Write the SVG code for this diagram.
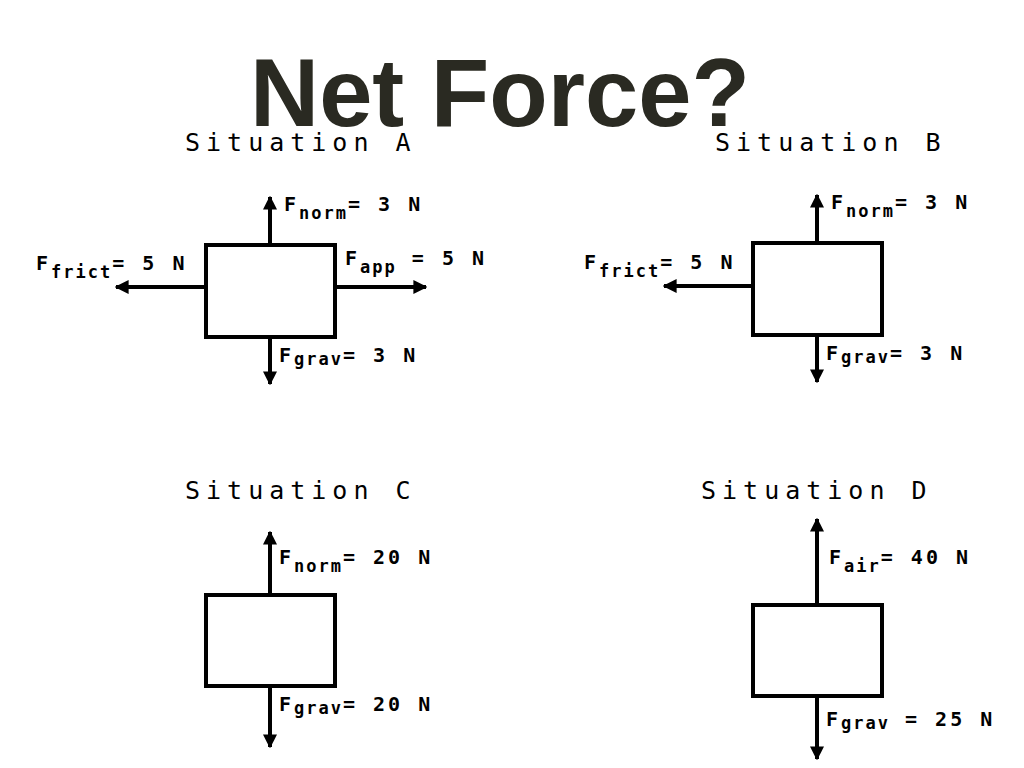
<svg xmlns="http://www.w3.org/2000/svg" width="1024" height="768" viewBox="0 0 1024 768">
<defs>
<marker id="ah" viewBox="0 0 10 10" refX="9" refY="5" markerWidth="3.5" markerHeight="3.5" orient="auto"><path d="M0,0 L10,5 L0,10 Z" fill="#000"/></marker>
<style>
.box{fill:#fff;stroke:#000;stroke-width:4}
.ar{stroke:#000;stroke-width:4;fill:none;marker-end:url(#ah)}
.lb{font-family:"DejaVu Sans Mono",monospace;font-weight:bold;font-size:20px;fill:#000;letter-spacing:3px}
.sub{font-size:17px;letter-spacing:2px}
.st{font-family:"DejaVu Sans Mono",monospace;font-size:25px;fill:#000;letter-spacing:6px}
.tt{font-family:"Liberation Sans",Arial,sans-serif;font-weight:bold;font-size:96px;fill:#2a2a22}
</style>
</defs>
<rect width="1024" height="768" fill="#fff"/>
<text class="tt" x="250" y="126" textLength="500" lengthAdjust="spacingAndGlyphs">Net Force?</text>
<text class="st" x="185" y="151">Situation A</text>
<text class="st" x="715" y="151">Situation B</text>
<text class="st" x="185" y="499">Situation C</text>
<text class="st" x="701" y="499">Situation D</text>
<g id="connectors">
<line class="ar" x1="270" y1="245" x2="270" y2="197"/>
<line class="ar" x1="270" y1="337" x2="270" y2="384"/>
<line class="ar" x1="206" y1="287" x2="116" y2="287"/>
<line class="ar" x1="335" y1="287" x2="426" y2="287"/>
<line class="ar" x1="817" y1="243" x2="817" y2="195"/>
<line class="ar" x1="817" y1="335" x2="817" y2="382"/>
<line class="ar" x1="753" y1="286" x2="664" y2="286"/>
<line class="ar" x1="270" y1="595" x2="270" y2="532"/>
<line class="ar" x1="270" y1="686" x2="270" y2="747"/>
<line class="ar" x1="817" y1="605" x2="817" y2="519"/>
<line class="ar" x1="817" y1="696" x2="817" y2="759"/>
</g>
<g id="A"><rect class="box" x="206" y="245" width="129" height="92"/>
<text class="lb" x="284" y="211">F<tspan class="sub" dy="8">norm</tspan><tspan dy="-8">= 3 N</tspan></text>
<text class="lb" x="36" y="270">F<tspan class="sub" dy="8">frict</tspan><tspan dy="-8">= 5 N</tspan></text>
<text class="lb" x="345" y="265">F<tspan class="sub" dy="8">app</tspan><tspan dy="-8"> = 5 N</tspan></text>
<text class="lb" x="279" y="362">F<tspan class="sub" dy="3">grav</tspan><tspan dy="-3">= 3 N</tspan></text>
</g>
<g id="B"><rect class="box" x="753" y="243" width="129" height="92"/>
<text class="lb" x="831" y="209">F<tspan class="sub" dy="8">norm</tspan><tspan dy="-8">= 3 N</tspan></text>
<text class="lb" x="584" y="269">F<tspan class="sub" dy="8">frict</tspan><tspan dy="-8">= 5 N</tspan></text>
<text class="lb" x="826" y="360">F<tspan class="sub" dy="3">grav</tspan><tspan dy="-3">= 3 N</tspan></text>
</g>
<g id="C"><rect class="box" x="206" y="595" width="129" height="91"/>
<text class="lb" x="279" y="564">F<tspan class="sub" dy="8">norm</tspan><tspan dy="-8">= 20 N</tspan></text>
<text class="lb" x="279" y="711">F<tspan class="sub" dy="3">grav</tspan><tspan dy="-3">= 20 N</tspan></text>
</g>
<g id="D"><rect class="box" x="753" y="605" width="129" height="91"/>
<text class="lb" x="829" y="564">F<tspan class="sub" dy="8">air</tspan><tspan dy="-8">= 40 N</tspan></text>
<text class="lb" x="826" y="726">F<tspan class="sub" dy="3">grav</tspan><tspan dy="-3"> = 25 N</tspan></text>
</g>
</svg>
